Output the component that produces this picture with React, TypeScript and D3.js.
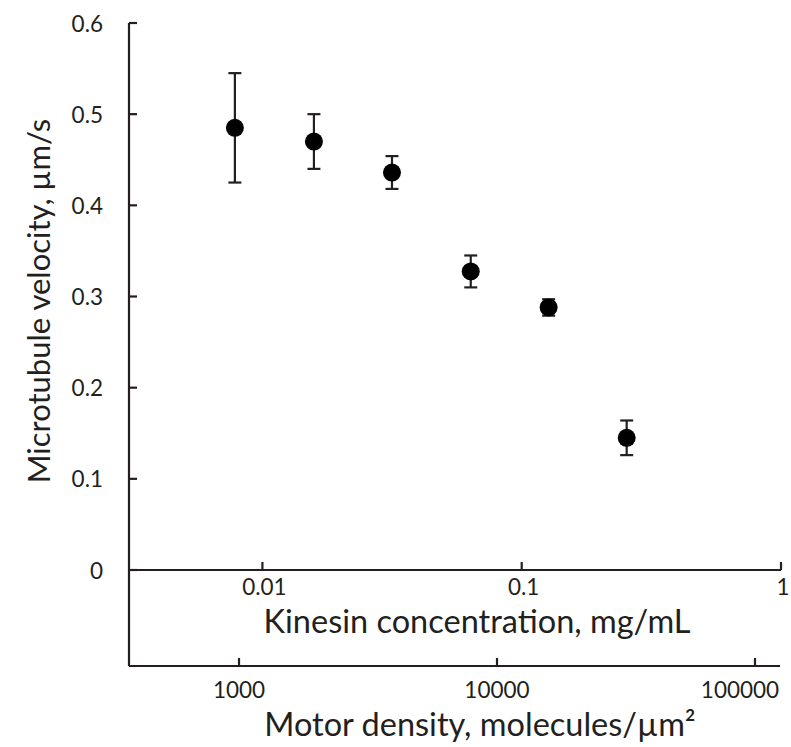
import React from 'react';
import * as d3 from 'd3';

// Kinesin gliding assay: velocity vs. kinesin concentration
const concentration = [0.00783, 0.0158, 0.0316, 0.0636, 0.127, 0.254];
const velocity = [0.485, 0.47, 0.436, 0.3275, 0.288, 0.145];
const velocityErr = [0.06, 0.03, 0.018, 0.0175, 0.009, 0.019];

const yTicks = [0, 0.1, 0.2, 0.3, 0.4, 0.5, 0.6];
const concTicks = [0.01, 0.1, 1];
const densityTicks = [1000, 10000, 100000];

const W = 791;
const H = 747;
const INK = '#231f20';
const FONT = 'Lato, "Open Sans", sans-serif';

const App = () => {
  const x = d3.scaleLog().domain([0.003058, 1]).range([129, 781]);
  const xDensity = d3.scaleLog().domain([374.6, 125000]).range([129, 780]);
  const y = d3.scaleLinear().domain([0, 0.6]).range([570, 23]);
  const bottomY = 666;

  const points = concentration.map((c, i) => ({
    c,
    v: velocity[i],
    e: velocityErr[i],
  }));

  return (
    <svg
      width={W}
      height={H}
      viewBox={`0 0 ${W} ${H}`}
      style={{ position: 'absolute', left: 0, top: 0, background: '#fff' }}
      fontFamily={FONT}
    >
      {/* y axis */}
      <line x1={129} x2={129} y1={y(0.6)} y2={bottomY} stroke={INK} strokeWidth={2.2} />
      {yTicks.map(t => (
        <g key={t}>
          <line x1={129} x2={137} y1={y(t)} y2={y(t)} stroke={INK} strokeWidth={2.2} />
          <text
            x={103}
            y={y(t)}
            textAnchor="end"
            dominantBaseline="central"
            fontSize={22.5}
            fill={INK}
          >
            {t === 0 ? '0' : t.toFixed(1)}
          </text>
        </g>
      ))}
      <text
        transform={`translate(50, 301) rotate(-90)`}
        textAnchor="middle"
        fontSize={31}
        fill={INK}
      >
        Microtubule velocity, µm/s
      </text>

      {/* top x axis: concentration */}
      <line x1={129} x2={x(1)} y1={y(0)} y2={y(0)} stroke={INK} strokeWidth={2.2} />
      {concTicks.map(t => (
        <g key={t}>
          <line x1={x(t)} x2={x(t)} y1={y(0)} y2={y(0) - 8} stroke={INK} strokeWidth={2.2} />
          <text x={Math.min(x(t) + 2, 784)} y={595} textAnchor="middle" fontSize={22.5} fill={INK}>
            {t}
          </text>
        </g>
      ))}
      <text x={477} y={633} textAnchor="middle" fontSize={32.5} fill={INK}>
        Kinesin concentration, mg/mL
      </text>

      {/* bottom x axis: motor density */}
      <line x1={129} x2={780} y1={bottomY} y2={bottomY} stroke={INK} strokeWidth={2.2} />
      {densityTicks.map(t => (
        <g key={t}>
          <line
            x1={xDensity(t)}
            x2={xDensity(t)}
            y1={bottomY}
            y2={bottomY - 8}
            stroke={INK}
            strokeWidth={2.2}
          />
          <text
            x={Math.min(xDensity(t), 740)}
            y={698}
            textAnchor="middle"
            fontSize={22.5}
            fill={INK}
          >
            {t}
          </text>
        </g>
      ))}
      <text x={480} y={736} textAnchor="middle" fontSize={32.5} fill={INK}>
        Motor density, molecules/µm²
      </text>

      {/* error bars */}
      {points.map((p, i) => {
        const cx = x(p.c);
        return (
          <g key={`e${i}`} stroke={INK} strokeWidth={2.2}>
            <line x1={cx} x2={cx} y1={y(p.v + p.e)} y2={y(p.v - p.e)} />
            <line x1={cx - 6.5} x2={cx + 6.5} y1={y(p.v + p.e)} y2={y(p.v + p.e)} />
            <line x1={cx - 6.5} x2={cx + 6.5} y1={y(p.v - p.e)} y2={y(p.v - p.e)} />
          </g>
        );
      })}

      {/* markers */}
      {points.map((p, i) => (
        <circle key={`p${i}`} cx={x(p.c)} cy={y(p.v)} r={9} fill="#000" />
      ))}
    </svg>
  );
};

export default App;
